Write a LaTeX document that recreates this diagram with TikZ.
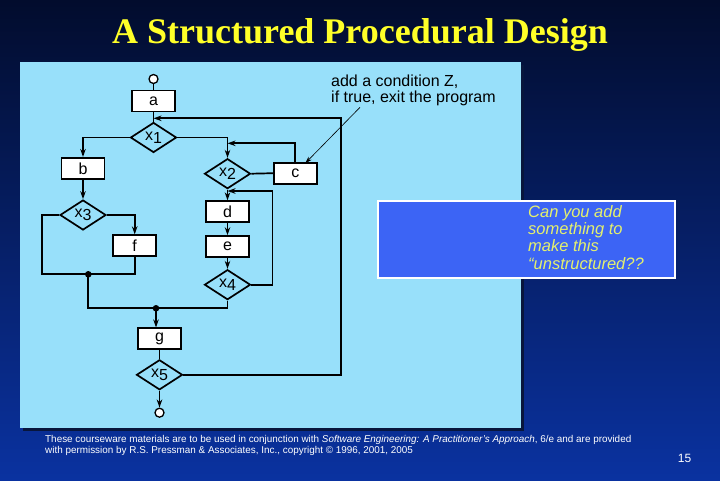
\documentclass[tikz,border=0pt]{standalone}
\usepackage{fontspec}
\setmainfont{Liberation Sans}
\newfontfamily\titlefont{Liberation Serif}
\usetikzlibrary{shapes.geometric,arrows.meta}
\definecolor{slidetop}{RGB}{2,12,45}
\definecolor{slidebottom}{RGB}{10,50,160}
\definecolor{panelblue}{RGB}{152,224,250}
\definecolor{panelshadow}{RGB}{8,22,60}
\definecolor{calloutblue}{RGB}{60,100,245}
\definecolor{titleyellow}{RGB}{255,255,40}
\definecolor{noteyellow}{RGB}{228,240,110}

\begin{document}
\begin{tikzpicture}[x=1pt, y=-1pt,
    box/.style={rectangle, draw, fill=white, line width=1.7pt, minimum width=43pt, minimum height=21pt, inner sep=0pt, font=\fontsize{16}{16}\selectfont},
    test/.style={diamond, draw, fill=panelblue, line width=1.7pt, minimum width=46pt, minimum height=30pt, inner sep=0pt, font=\fontsize{16}{16}\selectfont},
    terminal/.style={circle, draw, fill=white, line width=1.3pt, minimum size=9pt, inner sep=0pt},
    flow/.style={line width=1.7pt},
    arrow/.style={-{Stealth[length=8pt,width=5.5pt]}, line width=1.7pt},
    pointer/.style={-{Stealth[length=7pt,width=4.5pt]}, line width=0.6pt}
  ]
  \useasboundingbox (0,0) rectangle (720,480);
  \shade[top color=slidetop, bottom color=slidebottom] (0,0) rectangle (720,480);
  \fill[panelshadow] (23,65) rectangle (524,431);
  \fill[panelblue] (20,62) rectangle (521,428);

  \node[font=\titlefont\bfseries\fontsize{36}{36}\selectfont, text=titleyellow, anchor=base] (title) at (360,43.5) {A Structured Procedural Design};

  % flowchart
  \node[terminal] (start) at (153.5,79) {};
  \node[box] (a) at (153.5,101) {a};
  \node[test] (x1) at (153.5,137.5) {x\raisebox{-3pt}{1}};
  \node[box] (b) at (83,168.3) {b};
  \node[test] (x3) at (83,215) {x\raisebox{-3pt}{3}};
  \node[box] (f) at (134.7,245.7) {f};
  \node[test] (x2) at (227.5,173.7) {x\raisebox{-3pt}{2}};
  \node[box] (c) at (295.3,173.2) {c};
  \node[box] (d) at (227.5,211.7) {d};
  \node[box] (e) at (227.5,246.5) {e};
  \node[test] (x4) at (227.5,284.7) {x\raisebox{-3pt}{4}};
  \node[box] (g) at (159.5,338.8) {g};
  \node[test] (x5) at (159.5,374.8) {x\raisebox{-3pt}{5}};
  \node[terminal] (stop) at (159.5,412.7) {};

  \coordinate (j1) at (153.5,118.3);
  \coordinate (j2) at (227.5,143.3);
  \coordinate (j3) at (227.5,191);
  \coordinate (m1) at (88.3,274.3);
  \coordinate (m2) at (156,308.3);

  \draw[flow] (start) -- (a);
  \draw[flow] (a) -- (x1);
  \draw[arrow] (x1.west) -| (b.north);
  \draw[arrow] (x1.east) -| (x2.north);
  \draw[flow] (x2.east) -- (c.west);
  \draw[arrow] (c.north) |- (j2);
  \draw[arrow] (x2.south) -- (d.north);
  \draw[arrow] (d) -- (e);
  \draw[arrow] (e) -- (x4);
  \draw[arrow] (x4.east) -- ++(21,0) |- (j3);
  \draw[arrow] (b) -- (x3);
  \draw[arrow] (x3.east) -| (f.north);
  \draw[flow] (x3.west) -- ++(-17.3,0) |- (m1) -| (f.south);
  \draw[flow] (m1) |- (m2);
  \draw[flow] (x4.south) |- (m2);
  \fill (m1) circle (3.3pt);
  \fill (m2) circle (3.3pt);
  \draw[arrow] (m2) -- (m2 |- g.north);
  \draw[flow] (g) -- (x5);
  \draw[arrow] (x5) -- (stop);
  \draw[arrow] (x5.east) -- ++(157.7,0) |- (j1);

  % note on c
  \node[anchor=north west, align=left, inner sep=0pt, font=\fontsize{16}{16}\selectfont] (note) at (331,75) {add a condition Z,\\if true, exit the program};
  \draw[pointer] ([xshift=29pt,yshift=-1pt]note.south west) -- ([xshift=10pt,yshift=10pt]c.center);

  % question box
  \node[draw=white, line width=1.5pt, fill=calloutblue, minimum width=297pt, minimum height=77pt, anchor=north west] (callout) at (377,200) {};
  \node[anchor=north west, align=left, inner sep=0pt, text=noteyellow, font=\itshape\fontsize{16.5}{17.3}\selectfont] (question) at (528,205) {Can you add\\something to\\make this\\“unstructured??};

  % footer
  \node[anchor=base west, align=left, inner sep=0pt, text=white, font=\fontsize{9.9}{11}\selectfont] (credits) at (45,453.3) {These courseware materials are to be used in conjunction with \textit{Software Engineering: A Practitioner’s Approach}, 6/e and are provided\\with permission by R.S. Pressman \& Associates, Inc., copyright © 1996, 2001, 2005};
  \node[anchor=base, inner sep=0pt, text=white, font=\fontsize{12}{12}\selectfont] (page) at (684.5,462) {15};
\end{tikzpicture}
\end{document}
